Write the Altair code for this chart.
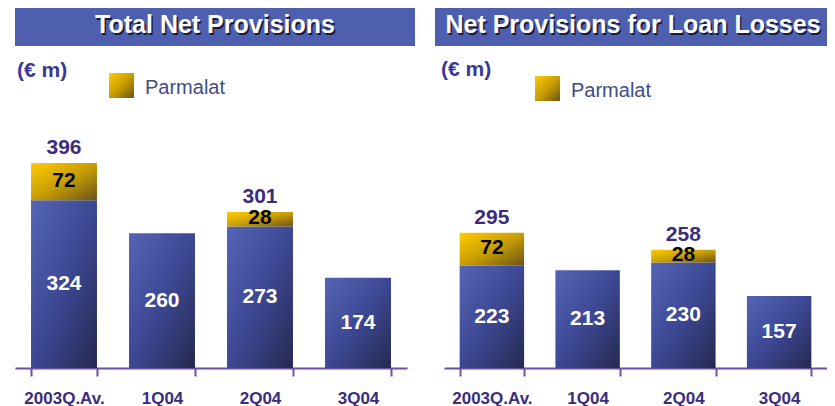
import altair as alt
import pandas as pd

categories = ["2003Q.Av.", "1Q04", "2Q04", "3Q04"]
total_base = [324, 260, 273, 174]
total_parmalat = [72, 0, 28, 0]
total_sum = [396, 260, 301, 174]
loan_base = [223, 213, 230, 157]
loan_parmalat = [72, 0, 28, 0]
loan_sum = [295, 213, 258, 157]
titles = ["Total Net Provisions", "Net Provisions for Loan Losses"]
unit_label = "(€ m)"
legend_label = "Parmalat"

SANS = "Liberation Sans, Arial, sans-serif"
PURPLE = "#3b2d7e"
BANNER = "#4f5faf"

blue_grad = alt.LinearGradient(
    gradient="linear",
    stops=[alt.GradientStop(color="#5464b4", offset=0),
           alt.GradientStop(color="#3d4894", offset=0.5),
           alt.GradientStop(color="#25294f", offset=1)],
    x1=0, y1=0, x2=1, y2=1)
gold_grad = alt.LinearGradient(
    gradient="linear",
    stops=[alt.GradientStop(color="#ffcc00", offset=0),
           alt.GradientStop(color="#c99e05", offset=0.5),
           alt.GradientStop(color="#6a5418", offset=1)],
    x1=0, y1=0, x2=1, y2=1)


def panel(title, base, parm, total, width, ymax, deco):
    df = pd.DataFrame({
        "cat": categories,
        "base": base,
        "parm": parm,
        "top": [b + p for b, p in zip(base, parm)],
        "total": total,
        "mid": [b / 2 for b in base],
        "pmid": [b + p / 2 for b, p in zip(base, parm)],
        "has": [p > 0 for p in parm],
    })
    x = alt.X("cat:N", sort=categories,
              scale=alt.Scale(paddingInner=0.327, paddingOuter=0.1635),
              axis=alt.Axis(title=None, labelAngle=0, tickBand="extent",
                            domainColor="#6b4fa3", domainWidth=2,
                            tickColor="#6b4fa3", tickWidth=2, tickSize=8,
                            labelFont=SANS, labelFontWeight="bold",
                            labelFontSize=17, labelColor=PURPLE,
                            labelPadding=14))
    ysc = alt.Scale(domain=[0, ymax])
    base_chart = alt.Chart(df)
    bars = base_chart.mark_bar(color=blue_grad).encode(
        x=x, y=alt.Y("base:Q", scale=ysc, axis=None))
    pbars = base_chart.transform_filter("datum.has").mark_bar(color=gold_grad).encode(
        x=x, y=alt.Y("top:Q", scale=ysc, axis=None), y2="base:Q")
    blabels = base_chart.mark_text(font=SANS, fontWeight="bold", fontSize=21,
                                   color="white", baseline="middle").encode(
        x=x, y=alt.Y("mid:Q", scale=ysc, axis=None), text="base:Q")
    plabels = base_chart.transform_filter("datum.has").mark_text(
        font=SANS, fontWeight="bold", fontSize=21, color="black",
        baseline="middle", dy=-1).encode(
        x=x, y=alt.Y("pmid:Q", scale=ysc, axis=None), text="parm:Q")
    tlabels = base_chart.transform_filter("datum.has").mark_text(
        font=SANS, fontWeight="bold", fontSize=21, color=PURPLE,
        baseline="alphabetic", dy=-9).encode(
        x=x, y=alt.Y("top:Q", scale=ysc, axis=None), text="total:Q")

    one = alt.Chart(pd.DataFrame({"t": [title], "u": [unit_label], "l": [legend_label]}))
    banner = one.mark_rect(color=BANNER).encode(
        x=alt.value(deco["bx"]), x2=alt.value(deco["bx2"]),
        y=alt.value(0), y2=alt.value(38))
    tshadow = one.mark_text(font=SANS, fontWeight="bold", fontSize=25,
                            color="#1a1a3a", baseline="alphabetic", align="center",
                            dx=1.5, dy=1.5).encode(
        x=alt.value(deco["tx"]), y=alt.value(25), text="t:N")
    ttext = one.mark_text(font=SANS, fontWeight="bold", fontSize=25,
                          color="white", baseline="alphabetic", align="center").encode(
        x=alt.value(deco["tx"]), y=alt.value(25), text="t:N")
    unit = one.mark_text(font=SANS, fontWeight="bold", fontSize=21,
                         color="#37389a", baseline="alphabetic", align="left").encode(
        x=alt.value(deco["ux"]), y=alt.value(deco["uy"]), text="u:N")
    lsq = one.mark_rect(color=gold_grad).encode(
        x=alt.value(deco["lx"]), x2=alt.value(deco["lx"] + 25),
        y=alt.value(deco["ly"]), y2=alt.value(deco["ly"] + 25))
    ltext = one.mark_text(font=SANS, fontSize=20, color="#3f4c86",
                          baseline="alphabetic", align="left").encode(
        x=alt.value(deco["lx"] + 36), y=alt.value(deco["ly"] + 21), text="l:N")

    return alt.layer(banner, tshadow, ttext, unit, lsq, ltext,
                     bars, pbars, blabels, plabels, tlabels).properties(
        width=width, height=360)


left = panel(titles[0], total_base, total_parmalat, total_sum, 392, 695,
             {"bx": 0, "bx2": 400, "tx": 200, "ux": 2, "uy": 69, "lx": 94, "ly": 65})
right = panel(titles[1], loan_base, loan_parmalat, loan_sum, 383, 785,
              {"bx": -9, "bx2": 383, "tx": 189, "ux": -3, "uy": 68, "lx": 91, "ly": 68})

chart = alt.hconcat(left, right, spacing=37, bounds="flush").resolve_scale(
    x="independent", y="independent").properties(
    padding={"left": 7, "top": 0, "right": 0, "bottom": 0},
    background="white").configure_view(stroke=None)

chart.save("out.html", embed_options={"renderer": "svg", "actions": False})
